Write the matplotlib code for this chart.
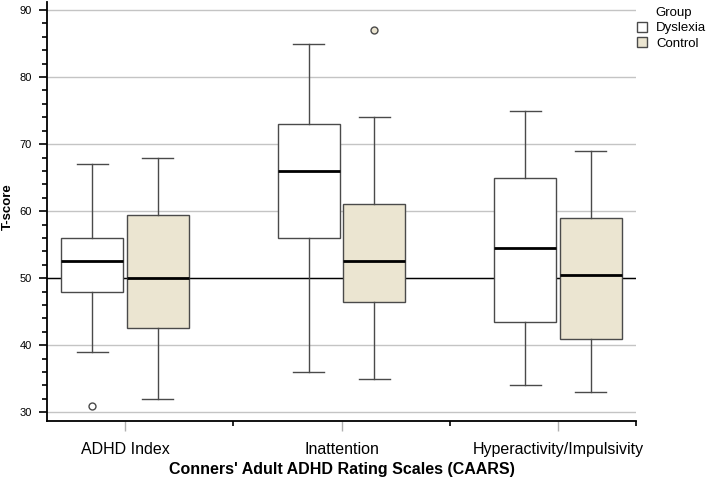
import matplotlib
matplotlib.use("Agg")
import matplotlib.pyplot as plt
from matplotlib.patches import Patch
from matplotlib.ticker import MultipleLocator, FixedLocator

plt.rcParams['font.family'] = ['Liberation Sans', 'DejaVu Sans']

# data
scales = ["ADHD Index", "Inattention", "Hyperactivity/Impulsivity"]
groups = ["Dyslexia", "Control"]
group_colors = ["#ffffff", "#ebe5d1"]

# per scale: [whislo, q1, median, q3, whishi]
dyslexia_stats = [
    [39, 48, 52.5, 56, 67],
    [36, 56, 66, 73, 85],
    [34, 43.5, 54.5, 65, 75],
]
control_stats = [
    [32, 42.5, 50, 59.5, 68],
    [35, 46.5, 52.5, 61, 74],
    [33, 41, 50.5, 59, 69],
]
dyslexia_outliers = [[31], [], []]
control_outliers = [[], [87], []]

reference_score = 50


def make_stats(rows, fliers):
    out = []
    for r, f in zip(rows, fliers):
        out.append({"whislo": r[0], "q1": r[1], "med": r[2], "q3": r[3],
                    "whishi": r[4], "fliers": f})
    return out


fig = plt.figure(figsize=(7.09, 4.90), dpi=100)
ax = fig.add_axes([47 / 709, 1 - 421 / 490, (636 - 47) / 709, 419 / 490])

ax.set_ylim(28.7, 91.2)
ax.set_xlim(-0.36, 2.36)

for y in range(30, 91, 10):
    ax.axhline(y, color="#c4c4c4", lw=1, zorder=0)
ax.axhline(reference_score, color="black", lw=1, zorder=1)

offset = 0.152
width = 0.287
all_stats = [make_stats(dyslexia_stats, dyslexia_outliers),
             make_stats(control_stats, control_outliers)]
for gi, stats in enumerate(all_stats):
    pos = [i + (gi * 2 - 1) * offset for i in range(len(scales))]
    ax.bxp(stats, positions=pos, widths=width, patch_artist=True,
           showfliers=True, manage_ticks=False,
           boxprops=dict(facecolor=group_colors[gi], edgecolor="#4a4a4a", lw=1),
           medianprops=dict(color="black", lw=2),
           whiskerprops=dict(color="#4a4a4a", lw=1),
           capprops=dict(color="#4a4a4a", lw=1),
           capwidths=width * 0.5,
           flierprops=dict(marker="o", markersize=5, markerfacecolor=group_colors[gi],
                           markeredgecolor="#4a4a4a", markeredgewidth=1),
           zorder=3)

for s in ["top", "right"]:
    ax.spines[s].set_visible(False)
ax.spines["left"].set_linewidth(1.3)
ax.spines["bottom"].set_linewidth(1.3)

ax.yaxis.set_major_locator(MultipleLocator(10))
ax.yaxis.set_minor_locator(MultipleLocator(2))
ax.tick_params(axis="y", which="major", length=6, width=1.2, labelsize=8, pad=5)
ax.tick_params(axis="y", which="minor", length=3.5, width=1.2)

ax.set_xticks(range(len(scales)))
ax.set_xticklabels(scales)
ax.xaxis.set_minor_locator(FixedLocator([0.5, 1.5, 2.36]))
ax.tick_params(axis="x", which="major", length=7, width=1, color="#b0b0b0",
               labelsize=11.5, pad=8)
ax.tick_params(axis="x", which="minor", length=3.5, width=1.2, color="black")

ax.set_ylabel("T-score", fontsize=9.5, fontweight="bold")
ax.yaxis.set_label_coords(-0.057, 0.512)
ax.set_xlabel("Conners' Adult ADHD Rating Scales (CAARS)", fontsize=11.5,
              fontweight="bold")
ax.xaxis.set_label_coords(0.5, -0.098)

handles = [Patch(facecolor=c, edgecolor="#4a4a4a", lw=1) for c in group_colors]
fig.legend(handles, groups, loc="upper left",
           bbox_to_anchor=(637 / 709, 1 - 22 / 490), frameon=False,
           fontsize=9.5, borderpad=0, borderaxespad=0, handlelength=0.76,
           handleheight=0.76, handletextpad=0.7, labelspacing=0.22)
fig.text(655 / 709, 1 - 13 / 490, "Group", fontsize=9.5, va="center", ha="left")

fig.savefig("out.png", dpi=100)
